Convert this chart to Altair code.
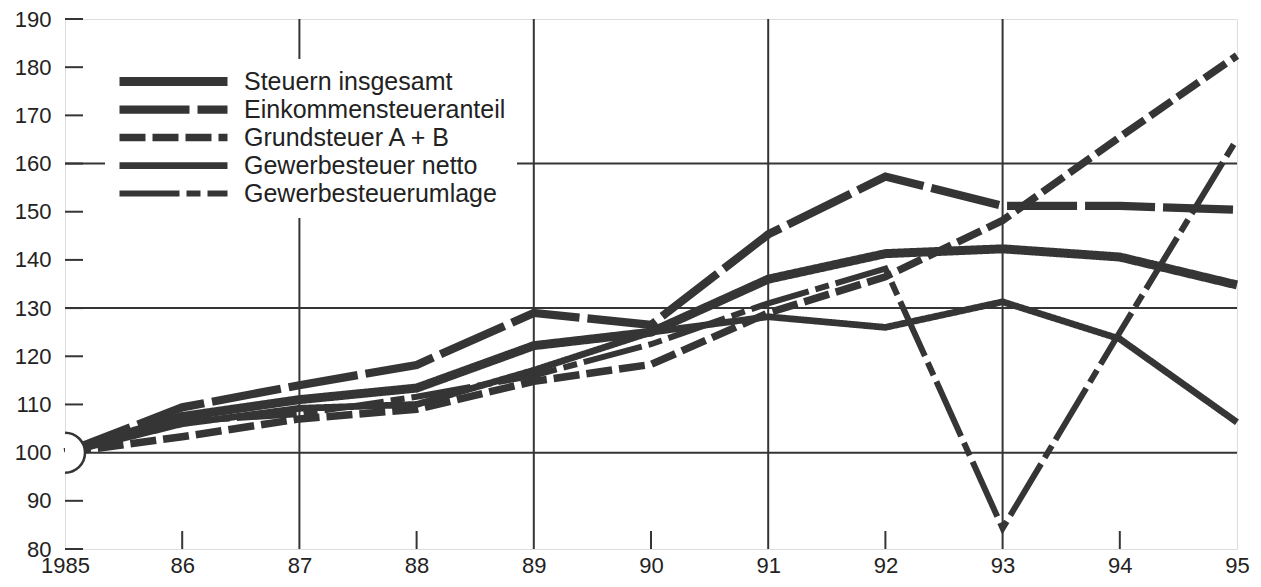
import altair as alt
import pandas as pd

years = list(range(1985, 1996))
series_names = ["Steuern insgesamt", "Einkommensteueranteil", "Grundsteuer A + B",
                "Gewerbesteuer netto", "Gewerbesteuerumlage"]
steuern = [100, 107.5, 111, 113.4, 122.2, 125, 136, 141.3, 142.3, 140.6, 134.8]
einkommen = [100, 109.4, 114, 118.2, 129, 126.5, 145.3, 157.3, 151.2, 151.2, 150.4]
grund = [100, 103.3, 107, 109, 114.8, 118.3, 129, 136.5, 148.2, 165.5, 182.4]
gewerbe = [100, 106, 109.2, 110, 117.1, 125, 128.2, 126, 131.3, 123.6, 106.3]
umlage = [100, 106.5, 108, 111.6, 116, 122.5, 131, 138.2, 84.3, 125, 165.1]

y_labels = list(range(80, 191, 10))
y_grid = [100, 130, 160]
x_grid = [1987, 1989, 1991, 1993]
x_ticks = [1986, 1988, 1990, 1992, 1994]
base_point = {"year": [1985], "value": [100]}

INK = "#353535"
FONT = "Liberation Sans"
W, H = 1172, 530

rows = []
for name, vals in zip(series_names, [steuern, einkommen, grund, gewerbe, umlage]):
    for yr, v in zip(years, vals):
        rows.append({"year": yr, "value": v, "series": name})
df = pd.DataFrame(rows)

xscale = alt.Scale(domain=[1985, 1995], nice=False, zero=False)
yscale = alt.Scale(domain=[80, 190], nice=False, zero=False)

xaxis = alt.Axis(
    values=years, ticks=False, domain=False, grid=False, title=None, labelFlush=False,
    labelExpr="datum.value == 1985 ? '1985' : slice(toString(datum.value), 2)",
    labelFontSize=22, labelFont=FONT, labelColor="#222", labelPadding=6)
yaxis = alt.Axis(
    values=y_labels, ticks=False, domain=False, grid=False, title=None, labelFlush=False,
    labelFontSize=22, labelFont=FONT, labelColor="#222", labelPadding=14)

legend = alt.Legend(
    orient="none", legendX=40, legendY=40, title=None,
    symbolType="stroke", symbolSize=11664, symbolStrokeColor=INK, clipHeight=25,
    labelFontSize=25, labelFont=FONT, labelColor="#222", labelOffset=12,
    rowPadding=2, padding=10, fillColor="white", strokeColor="white",
    labelLimit=400,
)

lines = alt.Chart(df).mark_line(color=INK, strokeCap="butt", strokeJoin="miter").encode(
    x=alt.X("year:Q", scale=xscale, axis=xaxis),
    y=alt.Y("value:Q", scale=yscale, axis=yaxis),
    strokeDash=alt.StrokeDash("series:N", scale=alt.Scale(
        domain=series_names,
        range=[[1, 0], [70, 8], [26, 7], [1, 0], [60, 7, 14, 7]]), legend=legend),
    strokeWidth=alt.StrokeWidth("series:N", scale=alt.Scale(
        domain=series_names, range=[9, 6, 6, 6, 6]), legend=legend),
)

hgrid = alt.Chart(pd.DataFrame({"v": y_grid})).mark_rule(color=INK, strokeWidth=2).encode(
    y=alt.Y("v:Q", scale=yscale, axis=yaxis))
vgrid = alt.Chart(pd.DataFrame({"v": x_grid})).mark_rule(color=INK, strokeWidth=2).encode(
    x=alt.X("v:Q", scale=xscale, axis=xaxis))
yticks = alt.Chart(pd.DataFrame({"v": y_labels})).mark_rule(color=INK, strokeWidth=2).encode(
    y=alt.Y("v:Q", scale=yscale, axis=yaxis), x=alt.value(0), x2=alt.value(18))
xticks = alt.Chart(pd.DataFrame({"v": x_ticks})).mark_rule(color=INK, strokeWidth=2).encode(
    x=alt.X("v:Q", scale=xscale, axis=xaxis), y=alt.value(H), y2=alt.value(H - 18))
circle = alt.Chart(pd.DataFrame(base_point)).mark_point(
    shape="circle", filled=True, fill="white", stroke=INK, strokeWidth=2.5,
    size=1600, opacity=1, clip=True).encode(
    x=alt.X("year:Q", scale=xscale, axis=xaxis),
    y=alt.Y("value:Q", scale=yscale, axis=yaxis))

chart = alt.layer(hgrid, vgrid, yticks, xticks, lines, circle).properties(
    width=W, height=H,
    autosize=alt.AutoSizeParams(type="none"),
    padding={"left": 57, "top": 11, "right": 16, "bottom": 30},
).configure_view(stroke=INK, strokeWidth=2).configure(background="white")

chart.save("out.html", embed_options={"renderer": "svg", "actions": False})
